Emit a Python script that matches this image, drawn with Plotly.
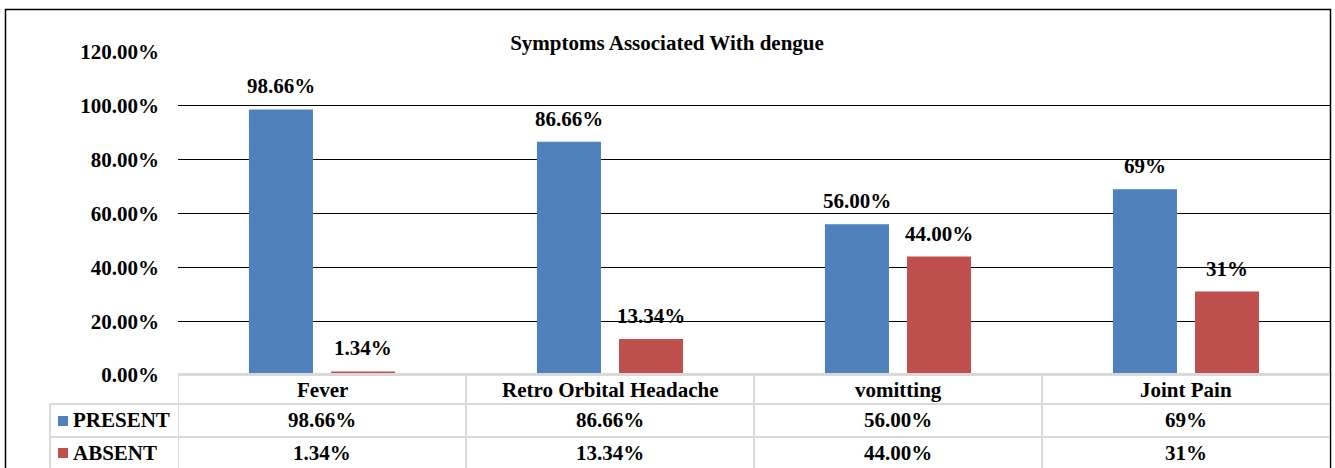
import plotly.graph_objects as go

# ---- data ----
categories = ["Fever", "Retro Orbital Headache", "vomitting", "Joint Pain"]
present = [98.66, 86.66, 56.00, 69]
absent = [1.34, 13.34, 44.00, 31]
present_labels = ["98.66%", "86.66%", "56.00%", "69%"]
absent_labels = ["1.34%", "13.34%", "44.00%", "31%"]
series_names = ["PRESENT", "ABSENT"]
y_ticks = [0, 20, 40, 60, 80, 100, 120]
y_tick_labels = ["0.00%", "20.00%", "40.00%", "60.00%", "80.00%", "100.00%", "120.00%"]
title_text = "Symptoms Associated With dengue"

# ---- style ----
BLUE = "#4F81BD"
RED = "#C0504D"
GRID_TBL = "#D9D9D9"
FONT = "Liberation Serif, Times New Roman, serif"
FS = 21
W, H = 1335, 468
L, R, T = 178, 5, 52
BOTTOM_PX = 375
B = H - BOTTOM_PX
PW, PH = W - L - R, H - T - B


def pxx(p):
    return (p - L) / PW


def pxy(p):
    return (BOTTOM_PX - p) / PH


def bfont(size=FS):
    return dict(family=FONT, size=size, color="black", weight="bold")


fig = go.Figure()
fig.add_trace(go.Bar(x=categories, y=present, name=series_names[0],
                     marker=dict(color=BLUE, line=dict(width=0))))
fig.add_trace(go.Bar(x=categories, y=absent, name=series_names[1],
                     marker=dict(color=RED, line=dict(width=0))))

annotations = []
BARGAP, GROUPGAP = 0.43, 0.22
cat_px = PW / len(categories)
offset = cat_px * (1 - BARGAP) / 4
for vals, labels, sh in ((present, present_labels, -offset), (absent, absent_labels, offset)):
    for c, v, t in zip(categories, vals, labels):
        annotations.append(dict(x=c, y=v, xref="x", yref="y", text=t, showarrow=False,
                                xshift=sh, yshift=9, yanchor="bottom", font=bfont()))

# data table text
row_y = [pxy(390), pxy(420), pxy(453)]
for c in categories:
    annotations.append(dict(x=c, y=row_y[0], xref="x", yref="paper", text=c, showarrow=False,
                            xanchor="center", yanchor="middle", font=bfont()))
for c, t in zip(categories, present_labels):
    annotations.append(dict(x=c, y=row_y[1], xref="x", yref="paper", text=t, showarrow=False,
                            xanchor="center", yanchor="middle", font=bfont()))
for c, t in zip(categories, absent_labels):
    annotations.append(dict(x=c, y=row_y[2], xref="x", yref="paper", text=t, showarrow=False,
                            xanchor="center", yanchor="middle", font=bfont()))
for name, yy in zip(series_names, row_y[1:]):
    annotations.append(dict(x=pxx(71), y=yy, xref="paper", yref="paper", text=name,
                            showarrow=False, xanchor="left", yanchor="middle", font=bfont()))

shapes = []
# outer border
shapes.append(dict(type="rect", xref="paper", yref="paper", x0=pxx(5.5), x1=pxx(1330.5),
                   y0=pxy(520), y1=pxy(9.5), line=dict(color="black", width=1.5)))
# table lines
tl = dict(color=GRID_TBL, width=2)
shapes.append(dict(type="line", xref="paper", yref="paper", x0=0, x1=1,
                   y0=pxy(374), y1=pxy(374), line=tl))
for yp in (404, 437):
    shapes.append(dict(type="line", xref="paper", yref="paper", x0=pxx(50), x1=1,
                       y0=pxy(yp), y1=pxy(yp), line=tl))
for i in range(len(categories) + 1):
    shapes.append(dict(type="line", xref="x", yref="paper", x0=i - 0.5, x1=i - 0.5,
                       y0=pxy(374), y1=pxy(470), line=tl))
shapes.append(dict(type="line", xref="paper", yref="paper", x0=pxx(50), x1=pxx(50),
                   y0=pxy(404), y1=pxy(470), line=tl))
# legend keys
for col, yp in ((BLUE, 421), (RED, 453)):
    shapes.append(dict(type="rect", xref="paper", yref="paper", x0=pxx(58), x1=pxx(68),
                       y0=pxy(yp + 5), y1=pxy(yp - 5), fillcolor=col, line=dict(width=0)))

fig.update_layout(
    width=W, height=H,
    margin=dict(l=L, r=R, t=T, b=B),
    paper_bgcolor="white", plot_bgcolor="white",
    barmode="group", bargap=BARGAP, bargroupgap=GROUPGAP,
    showlegend=False,
    title=dict(text=title_text, x=667 / W, xanchor="center",
               y=1 - 43 / H, yanchor="middle", font=bfont()),
    xaxis=dict(showticklabels=False, showgrid=False, zeroline=False, showline=False,
               range=[-0.5, len(categories) - 0.5]),
    yaxis=dict(range=[0, 120], tickvals=y_ticks, ticktext=y_tick_labels,
               showgrid=True, gridcolor="black", gridwidth=1,
               zeroline=True, zerolinecolor=GRID_TBL, zerolinewidth=2,
               showline=False, ticks="", ticklabelstandoff=18, tickfont=bfont()),
    annotations=annotations,
    shapes=shapes,
)

fig.write_html("out.html", config={"displayModeBar": False},
               post_script="document.body.style.margin='0';document.body.style.overflow='hidden';")
